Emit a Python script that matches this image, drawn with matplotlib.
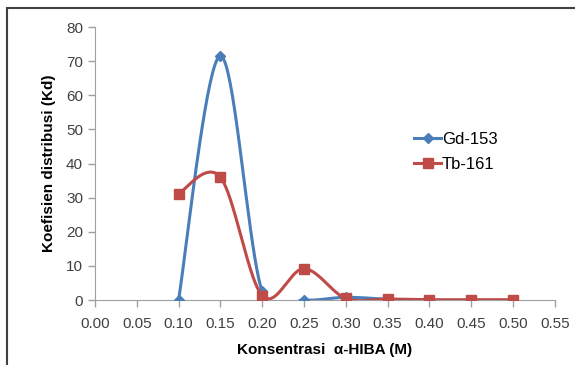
import numpy as np
import matplotlib.pyplot as plt
from matplotlib.patches import Rectangle

plt.rcParams['font.family'] = ['Liberation Sans', 'DejaVu Sans']

# data
gd_x = [0.10, 0.15, 0.20, 0.25, 0.30, 0.35]
gd_y = [0.0, 71.5, 2.5, 0.0, 0.8, 0.2]
tb_x = [0.10, 0.15, 0.20, 0.25, 0.30, 0.35, 0.40, 0.45, 0.50]
tb_y = [31.2, 36.0, 1.3, 9.2, 0.5, 0.3, 0.1, 0.1, 0.1]

blue = '#4A7EBB'
red = '#BE4B48'


def smooth(xs, ys, n=40):
    # Excel-like smoothed line: Catmull-Rom through the points as Bezier
    p = np.column_stack([xs, ys]).astype(float)
    ext = np.vstack([p[0], p, p[-1]])
    out = []
    t = np.linspace(0, 1, n)[:, None]
    for i in range(len(p) - 1):
        p0, p1, p2, p3 = ext[i], ext[i + 1], ext[i + 2], ext[i + 3]
        c1 = p1 + (p2 - p0) / 6
        c2 = p2 - (p3 - p1) / 6
        seg = ((1 - t) ** 3) * p1 + 3 * ((1 - t) ** 2) * t * c1 + 3 * (1 - t) * t ** 2 * c2 + t ** 3 * p2
        out.append(seg)
    s = np.vstack(out)
    return s[:, 0], s[:, 1]


fig = plt.figure(figsize=(5.75, 3.65), dpi=100)
ax = fig.add_axes([0.165, 0.178, 0.80, 0.748])

sx, sy = smooth(gd_x, gd_y)
ax.plot(sx, sy, color=blue, lw=2.2, zorder=2)
ax.plot(gd_x, gd_y, ls='none', marker='D', ms=5.5, color=blue, zorder=3)
sx, sy = smooth(tb_x, tb_y)
ax.plot(sx, sy, color=red, lw=2.2, zorder=4)
ax.plot(tb_x, tb_y, ls='none', marker='s', ms=7.5, color=red, zorder=5)

ax.plot([], [], color=blue, lw=2.2, marker='D', ms=5.5, label='Gd-153')
ax.plot([], [], color=red, lw=2.2, marker='s', ms=7.5, label='Tb-161')

ax.set_xlim(0, 0.55)
ax.set_ylim(0, 80)
ax.set_xticks(np.arange(0, 0.551, 0.05))
ax.set_xticklabels([f'{v:.2f}' for v in np.arange(0, 0.551, 0.05)])
ax.set_yticks(range(0, 81, 10))

for s in ['top', 'right']:
    ax.spines[s].set_visible(False)
for s in ['left', 'bottom']:
    ax.spines[s].set_color('#A0A0A0')
ax.tick_params(colors='#A0A0A0', labelcolor='#404040', labelsize=11, length=5, width=1)
ax.tick_params(axis='x', pad=7)

ax.set_xlabel('Konsentrasi  \u03b1-HIBA (M)', fontsize=11, fontweight='bold', labelpad=9)
ax.set_ylabel('Koefisien distribusi (Kd)', fontsize=11, fontweight='bold', labelpad=7)

ax.legend(loc='upper left', bbox_to_anchor=(0.68, 0.64), frameon=False, fontsize=12,
          handlelength=1.6, handletextpad=0.05, labelspacing=0.6, borderaxespad=0)

fig.add_artist(Rectangle((0.012, -0.1), 1.2, 1.078, transform=fig.transFigure,
                         fill=False, edgecolor='#404040', lw=1.5))

fig.savefig('out.png', dpi=100)
